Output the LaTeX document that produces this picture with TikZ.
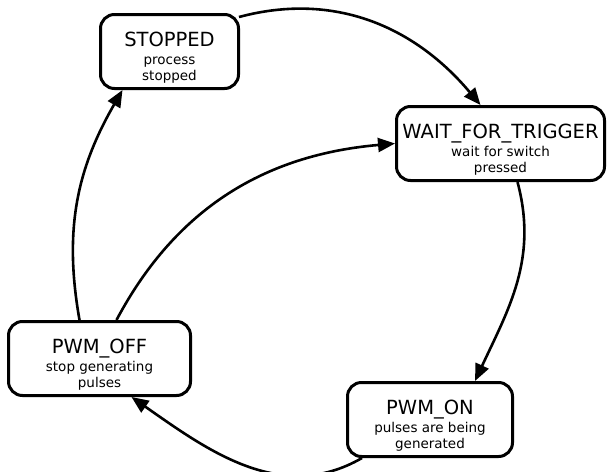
\documentclass[tikz,border=0pt]{standalone}
\usepackage{fontspec}
\setmainfont{DejaVu Sans}
\usetikzlibrary{arrows.meta, positioning}
\tikzset{
  % state boxes
  statebox/.style={
    rectangle, rounded corners=14pt,
    draw=black, line width=3pt, fill=white,
    minimum height=74pt, align=center, inner sep=2pt,
    font=\fontsize{13.5}{16}\selectfont
  },
  transarrow/.style={
    -{Triangle[length=17pt,width=14pt]}, line width=2.6pt, draw=black
  }
}
\newcommand{\statetitle}[1]{{\fontsize{19.5}{16}\selectfont\rule{0pt}{26pt}#1}\\[2pt]}

\begin{document}
\begin{tikzpicture}[x=1pt, y=-1pt]
  \useasboundingbox (0,0) rectangle (607,471);

  \node[statebox, minimum width=138pt] (stopped) at (169.5,51.5)
    {\statetitle{STOPPED}process\\stopped};
  \node[statebox, minimum width=208pt] (wait) at (500.5,143.5)
    {\statetitle{WAIT\_FOR\_TRIGGER}wait for switch\\pressed};
  \node[statebox, minimum width=182pt] (pwmoff) at (99.5,358.5)
    {\statetitle{PWM\_OFF}stop generating\\pulses};
  \node[statebox, minimum width=165pt] (pwmon) at (430,419.5)
    {\statetitle{PWM\_ON}pulses are being\\generated};

  % transitions
  \draw[transarrow] ([xshift=-1pt,yshift=-4pt]stopped.north east)
    to[out=15, in=130] ([xshift=-20pt]wait.north);
  \draw[transarrow] ([xshift=17pt]wait.south)
    to[out=-75, in=65] ([xshift=45pt]pwmon.north);
  \draw[transarrow] ([xshift=-68pt]pwmon.south)
    to[out=-150, in=-35] ([xshift=32pt]pwmoff.south);
  \draw[transarrow] ([xshift=-20pt]pwmoff.north)
    to[out=100, in=-120] ([xshift=-47pt]stopped.south);
  \draw[transarrow] ([xshift=17pt]pwmoff.north)
    to[out=62, in=185] (wait.west);
\end{tikzpicture}
\end{document}
